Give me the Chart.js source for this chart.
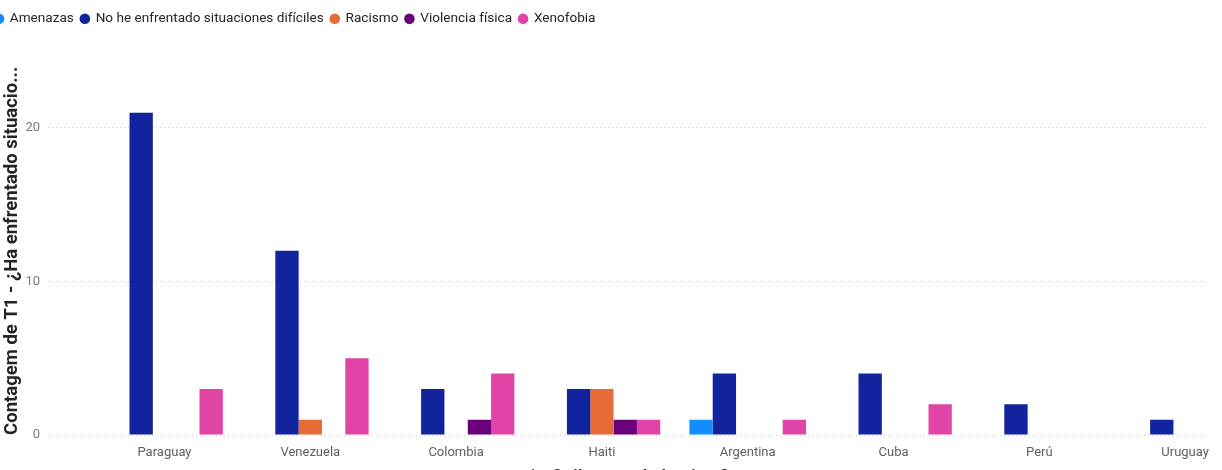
<!DOCTYPE html>
<html>
<head>
<meta charset="utf-8">
<script src="https://cdn.jsdelivr.net/npm/chart.js@4"></script>
<style>
  html, body { margin: 0; padding: 0; background: #fff; overflow: hidden; }
  body { width: 1222px; height: 470px; position: relative; }
  #wrap { position: absolute; left: -12px; top: 0; width: 1250px; height: 485px; }
</style>
</head>
<body>
<div id="wrap"><canvas id="mycanvas"></canvas></div>
<script>
var countries = ['Paraguay', 'Venezuela', 'Colombia', 'Haiti', 'Argentina', 'Cuba', 'Perú', 'Uruguay'];
var amenazas   = [0, 0, 0, 0, 1, 0, 0, 0];
var noHe       = [21, 12, 3, 3, 4, 4, 2, 1];
var racismo    = [0, 1, 0, 3, 0, 0, 0, 0];
var violencia  = [0, 0, 1, 1, 0, 0, 0, 0];
var xenofobia  = [3, 5, 4, 1, 1, 2, 0, 0];
var yTicks = [0, 10, 20];

function points(values) {
	var out = [];
	for (var i in values) {
		out.push({ x: Number(i), y: values[i] });
	}
	return out;
}

var chartdata = {
	datasets: [
		{ label: 'Amenazas', backgroundColor: '#118DFF', data: points(amenazas) },
		{ label: 'No he enfrentado situaciones difíciles', backgroundColor: '#12239E', data: points(noHe) },
		{ label: 'Racismo', backgroundColor: '#E66C37', data: points(racismo) },
		{ label: 'Violencia física', backgroundColor: '#6B007B', data: points(violencia) },
		{ label: 'Xenofobia', backgroundColor: '#E044A7', data: points(xenofobia) }
	]
};

var ctx = document.getElementById('mycanvas');

var barGraph = new Chart(ctx, {
	type: 'bar',
	data: chartdata,
	options: {
		responsive: true,
		maintainAspectRatio: false,
		animation: false,
		categoryPercentage: 0.8,
		barPercentage: 1.0,
		layout: { padding: { left: 0, right: 30, top: 5, bottom: 0 } },
		plugins: {
			tooltip: { enabled: false },
			legend: {
				position: 'top',
				align: 'start',
				labels: {
					usePointStyle: true,
					pointStyle: 'circle',
					boxWidth: 8,
					boxHeight: 7.5,
					padding: 7,
					color: '#252423',
					font: { family: 'Roboto', size: 13.6 }
				}
			},
			// empty box under the legend, keeps the gap above the plot
			subtitle: {
				display: true,
				text: '',
				position: 'top',
				weight: 500,
				font: { size: 10 },
				padding: { top: 19, bottom: 0 }
			}
		},
		scales: {
			x: {
				type: 'linear',
				offset: false,
				min: -0.799,
				max: 7.157,
				grid: { display: false, drawTicks: false, offset: false },
				border: { display: false },
				ticks: {
					stepSize: 1,
					includeBounds: false,
					autoSkip: false,
					maxRotation: 0,
					padding: 10,
					color: '#605E5C',
					font: { family: 'Roboto', size: 13 },
					callback: function(value) {
						return Number.isInteger(value) ? countries[value] : '';
					}
				},
				title: {
					display: true,
					text: '1. ¿Cuál es su país de origen?',
					color: '#252423',
					font: { family: 'Roboto', size: 15, weight: 'bold' },
					padding: { top: 4, bottom: 0 }
				},
				afterFit: function(scale) { scale.height = 50; }
			},
			y: {
				min: 0,
				max: 24,
				grid: { color: '#C8C8C8', lineWidth: 1, drawTicks: false },
				border: { display: false, dash: [1, 3] },
				afterBuildTicks: function(scale) {
					scale.ticks = yTicks.map(function(v) { return { value: v }; });
				},
				ticks: {
					padding: 8,
					color: '#777777',
					font: { family: 'Roboto', size: 13 }
				},
				title: {
					display: true,
					text: 'Contagem de T1 - ¿Ha enfrentado situacio...',
					color: '#252423',
					font: { family: 'Roboto', size: 18.5, weight: 'bold' },
					padding: { top: 13, bottom: 0 }
				},
				afterFit: function(scale) { scale.width = 60; }
			}
		}
	}
});
</script>
</body>
</html>
